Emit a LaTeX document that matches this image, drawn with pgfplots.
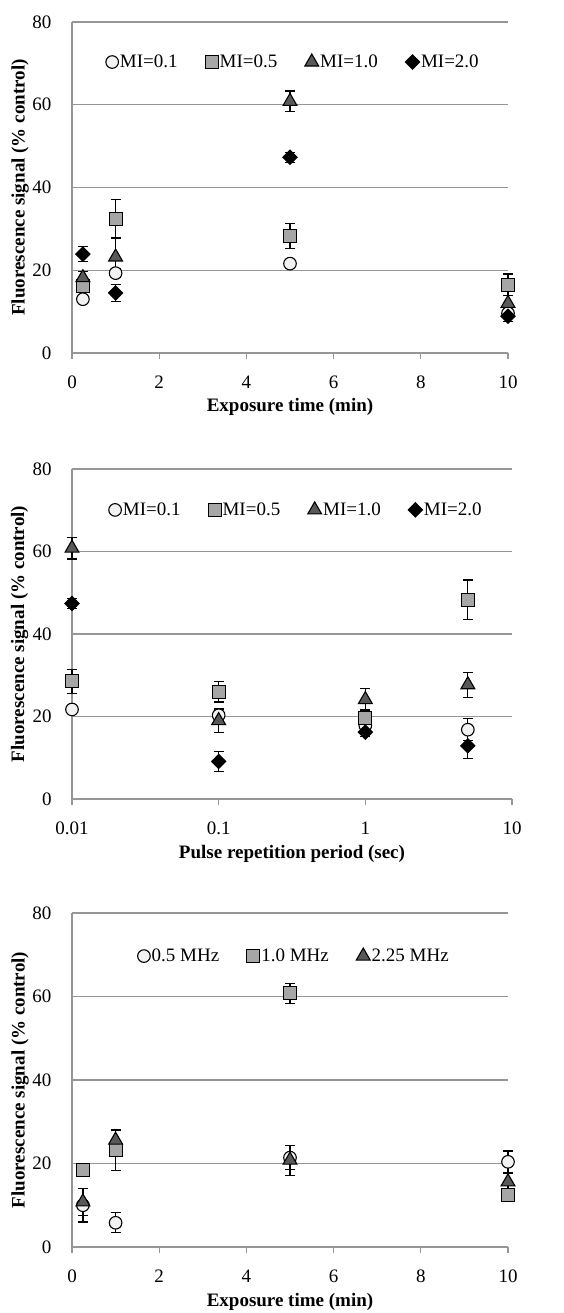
\documentclass[border=0pt]{standalone}
\usepackage{pgfplots}
\pgfplotsset{compat=1.18}
\usepackage{fontspec}
\setmainfont{Liberation Serif}
\definecolor{gridc}{RGB}{150,150,150}
\definecolor{cfill}{RGB}{242,242,242}
\definecolor{sfill}{RGB}{166,166,166}
\definecolor{tfill}{RGB}{89,89,89}
\pgfplotsset{
  mystyle/.style={
    scale only axis, anchor=south west, clip=false,
    axis x line*=bottom, axis y line*=left,
    axis line style={gridc, line width=1.3pt, -},
    ymin=0, ymax=80, ytick={0,20,40,60,80},
    ymajorgrids, grid style={gridc, line width=1.3pt},
    ytick style={draw=none},
    xtick style={gridc, line width=1.3pt},
    tick align=outside, major tick length=6pt,
    /pgf/number format/assume math mode=true,
    tick label style={font=\fontsize{19}{22}\selectfont},
    yticklabel style={xshift=-11pt},
    xticklabel style={yshift=-13pt},
    ylabel={Fluorescence signal (\% control)},
    every axis y label/.style={at={(axis description cs:-0.119,0.5)}, rotate=90, anchor=center, font=\fontsize{19}{22}\selectfont\bfseries},
    legend columns=-1,
    legend style={draw=none, fill=none, anchor=center,
      font=\fontsize{19}{22}\selectfont,
      nodes={inner xsep=1.5pt, inner ysep=2pt},
      /tikz/every even column/.append style={column sep=26pt}},
    legend image code/.code={\draw[##1] plot coordinates {(6pt,0pt)};},
    error bars/y dir=both, error bars/y explicit,
    error bars/error bar style={black, line width=1.2pt},
    error bars/error mark options={black, mark size=5pt, line width=1.2pt, rotate=90},
  },
  xl/.style={every axis x label/.style={at={(axis description cs:0.5,#1)}, anchor=center, font=\fontsize{19}{22}\selectfont\bfseries}},
  circ/.style={only marks, mark=*, mark size=6.3pt, mark options={fill=cfill, draw=black, line width=1.1pt}},
  sq/.style={only marks, mark=square*, mark size=6.5pt, mark options={fill=sfill, draw=black, line width=1.1pt}},
  tri/.style={only marks, mark=triangle*, mark size=8pt, mark options={fill=tfill, draw=black, line width=1.1pt}},
  dia/.style={only marks, mark=square*, mark size=5pt, mark options={fill=black, draw=black, line width=1.1pt, rotate=45}},
}
\begin{document}
\begin{tikzpicture}
\useasboundingbox (0,0) rectangle (563pt,1313pt);
% Panel 1
\begin{axis}[mystyle, at={(72pt,960pt)}, width=436pt, height=331pt,
  xmin=0, xmax=10, xtick={0,2,4,6,8,10},
  xlabel={Exposure time (min)}, xl=-0.163,
  legend style={at={(0.507,0.879)}}]
\addplot+[circ] coordinates {(0.25,13.0) +- (0,0.8) (1,19.3) +- (0,1.0) (5,21.6) +- (0,0.8) (10,9.6) +- (0,0.8)};
\addlegendentry{MI=0.1}
\addplot+[sq] coordinates {(0.25,16.1) +- (0,1.0) (1,32.4) +- (0,4.6) (5,28.3) +- (0,3.0) (10,16.5) +- (0,2.6)};
\addlegendentry{MI=0.5}
\addplot+[tri] coordinates {(0.25,18.2) +- (0,1.5) (1,23.2) +- (0,4.8) (5,60.8) +- (0,2.5) (10,12.0) +- (0,1.8)};
\addlegendentry{MI=1.0}
\addplot+[dia] coordinates {(0.25,23.9) +- (0,1.8) (1,14.5) +- (0,2.0) (5,47.3) +- (0,1.2) (10,8.9) +- (0,1.2)};
\addlegendentry{MI=2.0}
\end{axis}
% Panel 2
\begin{axis}[mystyle, at={(72pt,514pt)}, width=440pt, height=330pt,
  xmode=log, xmin=0.01, xmax=10, xtick={0.01,0.1,1,10}, xticklabels={0.01,0.1,1,10},
  xminorticks=false,
  xlabel={Pulse repetition period (sec)}, xl=-0.167,
  legend style={at={(0.509,0.876)}}]
\addplot+[circ] coordinates {(0.01,21.7) +- (0,0.8) (0.1,20.3) +- (0,1.0) (1,17.8) +- (0,1.0) (5,16.8) +- (0,2.7)};
\addlegendentry{MI=0.1}
\addplot+[sq] coordinates {(0.01,28.5) +- (0,2.9) (0.1,26.0) +- (0,2.5) (1,19.7) +- (0,2.0) (5,48.3) +- (0,4.8)};
\addlegendentry{MI=0.5}
\addplot+[tri] coordinates {(0.01,60.8) +- (0,2.6) (0.1,19.0) +- (0,2.8) (1,24.1) +- (0,2.6) (5,27.7) +- (0,3.0)};
\addlegendentry{MI=1.0}
\addplot+[dia] coordinates {(0.01,47.4) +- (0,1.2) (0.1,9.1) +- (0,2.4) (1,16.2) +- (0,1.0) (5,12.9) +- (0,3.0)};
\addlegendentry{MI=2.0}
\end{axis}
% Panel 3
\begin{axis}[mystyle, at={(72pt,66pt)}, width=436pt, height=334pt,
  xmin=0, xmax=10, xtick={0,2,4,6,8,10},
  xlabel={Exposure time (min)}, xl=-0.165,
  legend style={at={(0.509,0.871)}}]
\addplot+[circ] coordinates {(0.25,10.0) +- (0,4.0) (1,5.8) +- (0,2.4) (5,21.4) +- (0,2.9) (10,20.4) +- (0,2.6)};
\addlegendentry{0.5 MHz}
\addplot+[sq] coordinates {(0.25,18.4) +- (0,0.8) (1,23.2) +- (0,4.8) (5,60.8) +- (0,2.4) (10,12.4) +- (0,1.0)};
\addlegendentry{1.0 MHz}
\addplot+[tri] coordinates {(0.25,10.8) +- (0,3.2) (1,25.6) +- (0,2.6) (5,20.8) +- (0,3.6) (10,15.6) +- (0,2.0)};
\addlegendentry{2.25 MHz}
\end{axis}
\end{tikzpicture}
\end{document}
